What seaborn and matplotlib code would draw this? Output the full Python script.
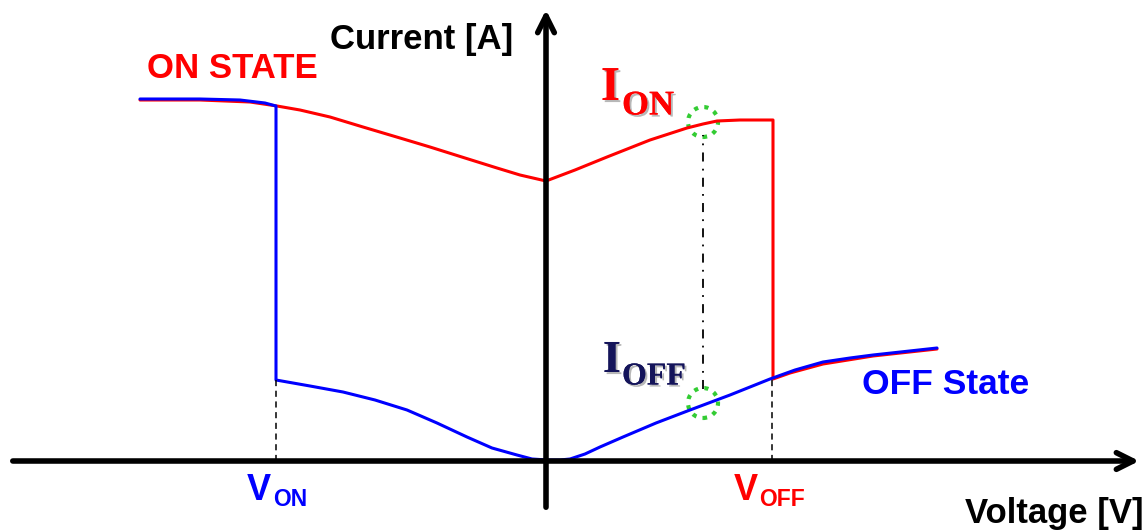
import numpy as np
import pandas as pd
import seaborn as sns
import matplotlib.pyplot as plt
import matplotlib.patheffects as pe
from matplotlib.patches import Circle

# --- data (voltage / current in arbitrary units, origin at axes crossing) ---
on_v = [-406, -346, -296, -269, -246, -216, -183, -146, -116, -81, -49, -26, 0,
        29, 61, 104, 141, 157, 171, 194, 227,
        227, 244, 277, 327, 391]
on_i = [361, 361, 359, 355, 351, 344, 334, 323, 314, 303, 293, 286, 280,
        291, 304, 321, 333, 337, 340, 341, 341,
        82, 88, 97, 105, 112]

off_v = [-406, -346, -306, -281, -270,
         -270, -236, -203, -171, -139, -109, -79, -54, -29, -14, 1,
         14, 24, 39, 54, 77, 110, 144, 184, 224, 249, 277, 304, 327, 391]
off_i = [362, 362, 361, 358, 355,
         81, 75, 69, 61, 51, 38, 24, 13, 6, 2, 1,
         1, 2, 7, 14, 24, 38, 51, 66, 82, 91, 99, 103, 106, 113]

v_on, v_off, v_read = -270, 226, 157
i_on_read, i_off_read = 339, 58

df_on = pd.DataFrame({'V': on_v, 'I': on_i})
df_off = pd.DataFrame({'V': off_v, 'I': off_i})

sns.set_style('white')
plt.rcParams['font.family'] = ['Liberation Sans', 'DejaVu Sans']

fig = plt.figure(figsize=(11.45, 5.31), dpi=100)
ax = fig.add_axes([0, 0, 1, 1])
ax.set_xlim(-546, 599)
ax.set_ylim(-70, 461)
ax.axis('off')

# axes arrows
ax.annotate('', xy=(0, 454), xytext=(0, -49),
            arrowprops=dict(arrowstyle='->', lw=4, color='black', mutation_scale=30))
ax.annotate('', xy=(596, 0), xytext=(-536, 0),
            arrowprops=dict(arrowstyle='->', lw=4, color='black', mutation_scale=30))

# curves
sns.lineplot(data=df_on, x='V', y='I', sort=False, estimator=None, color='#ff0000', lw=2.2, ax=ax)
sns.lineplot(data=df_off, x='V', y='I', sort=False, estimator=None, color='#0000ff', lw=2.2, ax=ax)

# guide lines
ax.vlines([v_on], 0, 81, colors='black', linestyles=(0, (4, 3)), lw=1.1)
ax.vlines([v_off], 0, 82, colors='black', linestyles=(0, (4, 3)), lw=1.1)
ax.vlines([v_read], 72, 326, colors='black', linestyles=(0, (5, 4, 1, 4)), lw=1.3)
for yc in [i_on_read, i_off_read]:
    ax.add_patch(Circle((v_read, yc), 15, fill=False, ec='#33cc33', lw=3, ls=(0, (1, 1.5))))

# labels
bold = dict(fontweight='bold')
ax.text(-399, 393, 'ON STATE', color='#ff0000', fontsize=25, va='center', **bold)
ax.text(-216, 421, 'Current [A]', color='black', fontsize=25, va='center', **bold)
ax.text(316, 77, 'OFF State', color='#0000ff', fontsize=25.5, va='center', **bold)
ax.text(419, -52, 'Voltage [V]', color='black', fontsize=25, va='center', **bold)

ax.text(-299, -30, 'V', color='#0000ff', fontsize=26, va='center', **bold)
ax.text(-273, -38, 'ON', color='#0000ff', fontsize=16.5, va='center', **bold)
ax.text(188, -30, 'V', color='#ff0000', fontsize=26, va='center', **bold)
ax.text(213, -38, 'OFF', color='#ff0000', fontsize=16.5, va='center', **bold)

shadow = [pe.withSimplePatchShadow(offset=(1.5, -1.5), shadow_rgbFace='#999999', alpha=0.7), pe.Normal()]
serif = ['Liberation Serif', 'DejaVu Serif']
ax.text(55, 373, 'I', color='#ff0000', fontsize=35, family=serif, va='center', path_effects=shadow, **bold)
ax.text(76, 355, 'ON', color='#ff0000', fontsize=25, family=serif, va='center', path_effects=shadow, **bold)
ax.text(57, 100, 'I', color='#14145a', fontsize=33, family=serif, va='center', path_effects=shadow, **bold)
ax.text(76, 84, 'OFF', color='#14145a', fontsize=23, family=serif, va='center', path_effects=shadow, **bold)

fig.savefig('out.png', dpi=100)
